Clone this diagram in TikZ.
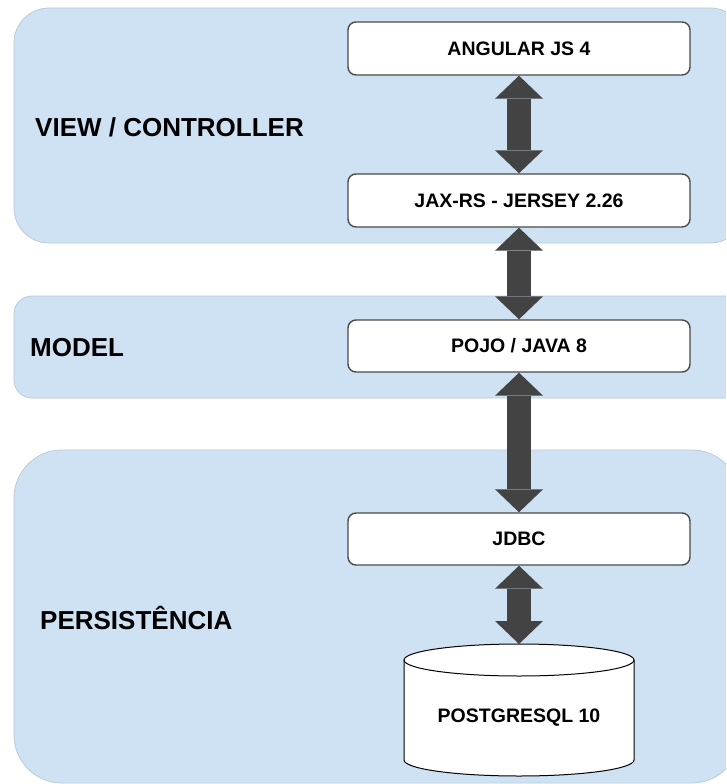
\documentclass[tikz,border=0pt]{standalone}
\usepackage{fontspec}
\setmainfont{Liberation Sans}
\usetikzlibrary{arrows.meta}
\definecolor{panelblue}{HTML}{CFE2F3}
\definecolor{panelline}{HTML}{BCCAD8}
\definecolor{boxline}{HTML}{4A4A4A}
\definecolor{arrowgray}{HTML}{434343}
\tikzset{
  panel/.style={fill=panelblue, draw=panelline, line width=0.8pt},
  layerbox/.style={draw=boxline, fill=white, line width=1.4pt, rounded corners=8pt,
    minimum width=342pt, inner sep=0pt, font=\fontsize{19.5}{22}\selectfont\bfseries},
  paneltext/.style={anchor=west, inner sep=0pt, font=\fontsize{26}{30}\selectfont\bfseries},
  dblarrow/.style={draw=arrowgray, line width=24pt,
    {Triangle[width=48pt,length=23pt,line width=0pt]}-{Triangle[width=48pt,length=23pt,line width=0pt]}},
  dbshape/.style={draw=black, line width=1pt},
}
\begin{document}
\begin{tikzpicture}[x=1pt,y=-1pt]
\useasboundingbox (0,0) rectangle (726,784);
\clip (0,0) rectangle (726,784);
\fill[white] (0,0) rectangle (726,784);
% panels
\draw[panel, rounded corners=35pt] (14,8) rectangle (745,243);
\draw[panel, rounded corners=18pt] (14,296) rectangle (745,398);
\draw[panel, rounded corners=48pt] (14,450) rectangle (740,783);
% panel labels
\node[paneltext] (lview) at (35,127) {VIEW / CONTROLLER};
\node[paneltext] (lmodel) at (30,348) {MODEL};
\node[paneltext] (lpers) at (40,618) {PERSISTÊNCIA};
% database cylinder
\fill[white] (404,660) -- (404,760) arc[start angle=180,end angle=360,x radius=115pt,y radius=16pt]
  -- (634,660) arc[start angle=0,end angle=180,x radius=115pt,y radius=16pt] -- cycle;
\draw[dbshape] (404,660) -- (404,760) arc[start angle=180,end angle=360,x radius=115pt,y radius=16pt]
  -- (634,660) arc[start angle=0,end angle=180,x radius=115pt,y radius=16pt] -- cycle;
\draw[dbshape] (404,660) arc[start angle=180,end angle=360,x radius=115pt,y radius=16pt];
\coordinate (dbtop) at (519,644);
\node[inner sep=0pt, font=\fontsize{19.5}{22}\selectfont\bfseries] (db) at (519,718) {POSTGRESQL 10};
% boxes
\node[layerbox, minimum height=53pt] (ang) at (519,48.5) {ANGULAR JS 4};
\node[layerbox, minimum height=53pt] (jax) at (519,200.5) {JAX-RS - JERSEY 2.26};
\node[layerbox, minimum height=52pt] (pojo) at (519,346) {POJO / JAVA 8};
\node[layerbox, minimum height=52pt] (jdbc) at (519,539) {JDBC};
% arrows
\draw[dblarrow] (ang.south) -- (jax.north);
\draw[dblarrow] (jax.south) -- (pojo.north);
\draw[dblarrow] (pojo.south) -- (jdbc.north);
\draw[dblarrow] (jdbc.south) -- (dbtop);
\end{tikzpicture}
\end{document}
